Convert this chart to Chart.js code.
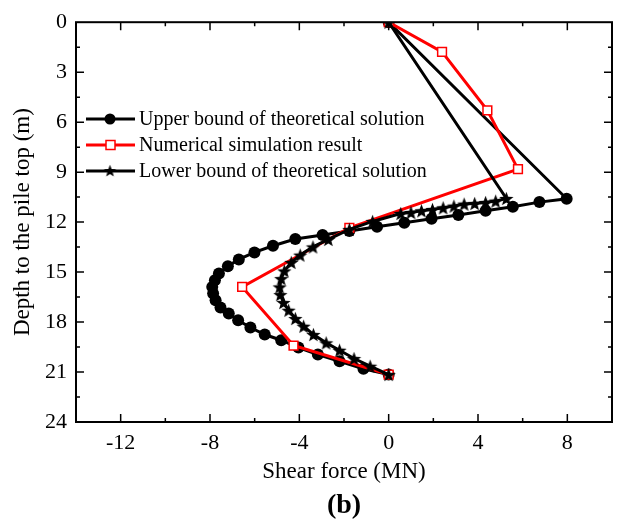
<!DOCTYPE html>
<html>
<head>
<meta charset="utf-8">
<title>Shear force along the pile</title>
<script src="https://cdn.jsdelivr.net/npm/chart.js@4.4.0/dist/chart.umd.min.js"></script>
<style>
  html, body { margin: 0; padding: 0; background: #fff; overflow: hidden; }
  canvas { display: block; }
</style>
</head>
<body>
<canvas id="shear-chart" width="625" height="521" style="width:625px;height:521px"></canvas>
<script>
// values: depth (m) and shear force (MN)
const upperDepth = [0, 10.6, 10.8, 11.08, 11.32, 11.58, 11.8, 12.04, 12.28, 12.54, 12.78, 13.02, 13.42, 13.82, 14.24, 14.65, 15.08, 15.49, 15.89, 16.29, 16.69, 17.13, 17.49, 17.89, 18.33, 18.75, 19.09, 19.53, 19.95, 20.35, 20.8, 21.15];
const upperShear = [0, 7.97, 6.75, 5.56, 4.34, 3.12, 1.92, 0.7, -0.52, -1.76, -2.96, -4.18, -5.18, -6.01, -6.71, -7.2, -7.6, -7.78, -7.9, -7.86, -7.75, -7.53, -7.16, -6.74, -6.19, -5.55, -4.81, -4.04, -3.17, -2.2, -1.13, 0];

const numDepth = [0, 1.78, 5.29, 8.82, 12.34, 15.89, 19.41, 21.15];
const numShear = [0, 2.39, 4.42, 5.79, -1.76, -6.56, -4.26, 0];

const lowerDepth = [0, 10.58, 10.74, 10.82, 10.88, 10.92, 11.04, 11.14, 11.24, 11.32, 11.42, 11.48, 11.96, 12.44, 13.04, 13.49, 13.98, 14.42, 14.93, 15.39, 15.89, 16.35, 16.83, 17.29, 17.79, 18.25, 18.75, 19.25, 19.69, 20.19, 20.65, 21.15];
const lowerShear = [0, 5.27, 4.79, 4.34, 3.85, 3.38, 2.92, 2.44, 1.96, 1.47, 1.0, 0.54, -0.72, -1.76, -2.7, -3.39, -3.96, -4.36, -4.67, -4.81, -4.88, -4.85, -4.71, -4.48, -4.18, -3.81, -3.37, -2.8, -2.2, -1.55, -0.83, 0];

const seriesNames = ['Upper bound of theoretical solution', 'Numerical simulation result', 'Lower bound of theoretical solution'];
const xTicks = [-12, -8, -4, 0, 4, 8];
const yTicks = [0, 3, 6, 9, 12, 15, 18, 21, 24];

const SERIF = '"Liberation Serif", "Times New Roman", serif';

function toPoints(shear, depth) {
    return shear.map((v, i) => ({ x: v, y: depth[i] }));
}

// filled five point star, Chart.js only has the asterisk one
function makeStar(r) {
    const c = document.createElement('canvas');
    const size = Math.ceil(r * 2 + 2);
    c.width = size;
    c.height = size;
    const g = c.getContext('2d');
    const cx = size / 2, cy = size / 2 + r * 0.1;
    g.beginPath();
    for (let i = 0; i < 10; i++) {
        const rad = i % 2 === 0 ? r : r * 0.42;
        const a = -Math.PI / 2 + i * Math.PI / 5;
        g.lineTo(cx + rad * Math.cos(a), cy + rad * Math.sin(a));
    }
    g.closePath();
    g.fillStyle = '#000';
    g.fill();
    return c;
}

const starImg = makeStar(7.5);
const legendStar = makeStar(6.5);

const framePlugin = {
    id: 'frame',
    afterDatasetsDraw(chart) {
        const { ctx, chartArea: a, scales: { x, y } } = chart;
        ctx.save();
        ctx.strokeStyle = '#000';
        ctx.lineWidth = 2;
        ctx.strokeRect(a.left, a.top, a.right - a.left, a.bottom - a.top);

        ctx.lineWidth = 1.5;
        ctx.beginPath();
        for (let v = -12; v < 10; v += 2) {
            const px = x.getPixelForValue(v);
            const len = v % 4 === 0 ? 8 : 4;
            ctx.moveTo(px, a.bottom);
            ctx.lineTo(px, a.bottom - len);
            ctx.moveTo(px, a.top);
            ctx.lineTo(px, a.top + len);
        }
        for (let v = 1.5; v < 24; v += 1.5) {
            const py = y.getPixelForValue(v);
            const len = v % 3 === 0 ? 8 : 4;
            ctx.moveTo(a.left, py);
            ctx.lineTo(a.left + len, py);
            ctx.moveTo(a.right, py);
            ctx.lineTo(a.right - len, py);
        }
        ctx.stroke();

        // axis titles and panel label
        ctx.fillStyle = '#000';
        ctx.textAlign = 'center';
        ctx.textBaseline = 'middle';
        ctx.font = '23px ' + SERIF;
        ctx.fillText('Shear force (MN)', (a.left + a.right) / 2, 472);
        ctx.save();
        ctx.translate(23, (a.top + a.bottom) / 2);
        ctx.rotate(-Math.PI / 2);
        ctx.fillText('Depth to the pile top (m)', 0, 0);
        ctx.restore();
        ctx.font = 'bold 28px ' + SERIF;
        ctx.fillText('(b)', (a.left + a.right) / 2, 506);

        // legend in the upper left
        const rows = [119, 145, 171];
        ctx.font = '20px ' + SERIF;
        ctx.textAlign = 'left';
        chart.data.datasets.forEach((ds, i) => {
            const ry = rows[i];
            ctx.strokeStyle = ds.borderColor;
            ctx.lineWidth = 3;
            ctx.beginPath();
            ctx.moveTo(86, ry);
            ctx.lineTo(135, ry);
            ctx.stroke();
            if (i === 0) {
                ctx.beginPath();
                ctx.arc(110, ry, 5.5, 0, Math.PI * 2);
                ctx.fillStyle = '#000';
                ctx.fill();
            } else if (i === 1) {
                ctx.fillStyle = '#fff';
                ctx.fillRect(106, ry - 4.5, 9, 9);
                ctx.lineWidth = 1.5;
                ctx.strokeStyle = '#ff0000';
                ctx.strokeRect(106, ry - 4.5, 9, 9);
            } else {
                ctx.drawImage(legendStar, 110 - legendStar.width / 2, ry - legendStar.height / 2 - 0.5);
            }
            ctx.fillStyle = '#000';
            ctx.fillText(ds.label, 139, ry + 1);
        });
        ctx.restore();
    }
};

const ctx = document.getElementById('shear-chart').getContext('2d');
const shearChart = new Chart(ctx, {
    type: 'line',
    data: {
        datasets: [
            {
                label: seriesNames[0],
                data: toPoints(upperShear, upperDepth),
                borderColor: '#000000',
                backgroundColor: '#000000',
                borderWidth: 3,
                pointStyle: 'circle',
                pointRadius: 6,
                pointBorderWidth: 0,
                order: 3
            },
            {
                label: seriesNames[1],
                data: toPoints(numShear, numDepth),
                borderColor: '#ff0000',
                backgroundColor: '#ffffff',
                borderWidth: 3,
                pointStyle: 'rect',
                pointRadius: 6.2,
                pointBorderWidth: 1.5,
                pointBorderColor: '#ff0000',
                order: 2
            },
            {
                label: seriesNames[2],
                data: toPoints(lowerShear, lowerDepth),
                borderColor: '#000000',
                backgroundColor: '#000000',
                borderWidth: 3,
                pointStyle: starImg,
                order: 1
            }
        ]
    },
    options: {
        responsive: false,
        animation: false,
        devicePixelRatio: 1,
        layout: { padding: { left: 0, top: 22, right: 13, bottom: 0 } },
        plugins: {
            legend: { display: false },
            tooltip: { enabled: false }
        },
        elements: { line: { tension: 0, fill: false } },
        scales: {
            x: {
                type: 'linear',
                min: -14,
                max: 10,
                grid: { display: false, drawTicks: false },
                border: { display: false },
                afterBuildTicks: axis => { axis.ticks = xTicks.map(v => ({ value: v })); },
                afterFit: axis => { axis.height = 99; },
                ticks: {
                    color: '#000',
                    padding: 8,
                    maxRotation: 0,
                    font: { family: SERIF, size: 22 }
                }
            },
            y: {
                type: 'linear',
                reverse: true,
                min: 0,
                max: 24,
                grid: { display: false, drawTicks: false },
                border: { display: false },
                afterBuildTicks: axis => { axis.ticks = yTicks.map(v => ({ value: v })); },
                afterFit: axis => { axis.width = 76; },
                ticks: {
                    color: '#000',
                    padding: 9,
                    font: { family: SERIF, size: 22 }
                }
            }
        }
    },
    plugins: [framePlugin]
});
</script>
</body>
</html>
